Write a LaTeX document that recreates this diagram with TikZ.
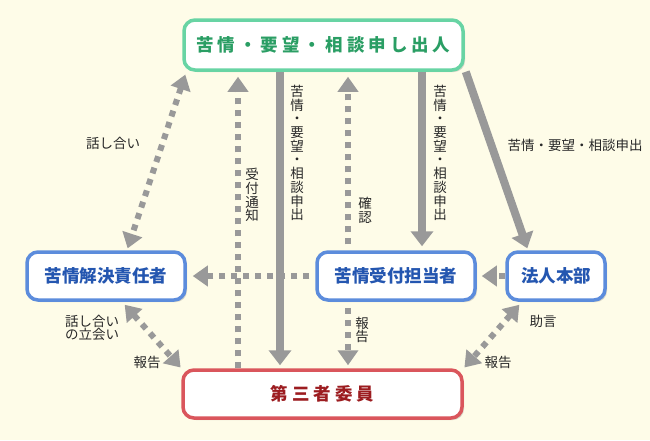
\documentclass[tikz,border=0pt]{standalone}
\usepackage{fontspec}
\setmainfont{Noto Sans CJK JP}
\usetikzlibrary{arrows.meta, shadows}

\definecolor{haikei}{RGB}{254,252,232}
\definecolor{mdborder}{RGB}{104,212,164}
\definecolor{mdtext}{RGB}{42,158,100}
\definecolor{aoborder}{RGB}{92,140,220}
\definecolor{aotext}{RGB}{36,86,176}
\definecolor{akaborder}{RGB}{218,86,92}
\definecolor{akatext}{RGB}{156,28,32}
\definecolor{yaji}{RGB}{153,153,153}
\definecolor{moji}{RGB}{40,40,40}
\newcommand\kan{\hspace{4pt}}

\begin{document}
\begin{tikzpicture}[x=1pt, y=-1pt,
    ya/.tip={Triangle[length=15pt, width=20pt]},
    box/.style={draw, line width=3.5pt, fill=white, rounded corners=11pt, inner sep=0pt,
        minimum height=48pt, font=\fontsize{17.5}{19}\selectfont\bfseries,
        drop shadow={shadow xshift=2pt, shadow yshift=-2pt, opacity=0.3}},
    midori/.style={box, draw=mdborder, text=mdtext},
    ao/.style={box, draw=aoborder, text=aotext},
    aka/.style={box, draw=akaborder, text=akatext},
    ten/.style={draw=yaji, line width=6pt, dash pattern=on 6pt off 6pt, -ya},
    ryou/.style={ten, ya-ya},
    futo/.style={draw=yaji, line width=8pt, -{Triangle[length=15pt, width=22pt]}},
    lab/.style={text=moji, font=\fontsize{13.5}{13.7}\selectfont, inner sep=0pt},
    tate/.style={lab, align=center}]

    \fill[haikei] (0,0) rectangle (650,440);

    \node[midori, minimum width=279pt, minimum height=50pt] (moushide) at (323.5,45)
        {苦\kan 情\kan ・\kan 要\kan 望\kan ・\kan 相\kan 談\kan 申\kan し\kan 出\kan 人};
    \node[ao, minimum width=158pt] (sekinin) at (106,276) {苦情解決責任者};
    \node[ao, minimum width=158pt] (tantou) at (396,276) {苦情受付担当者};
    \node[ao, minimum width=98pt] (honbu) at (556,276) {法人本部};
    \node[aka, minimum width=279pt] (daisan) at (322.5,394)
        {第\kan 三\kan 者\kan 委\kan 員};

    \coordinate (k1) at (238,0);
    \coordinate (k2) at (280,0);
    \coordinate (k3) at (348,0);
    \coordinate (k4) at (422,0);

    \draw[ryou, shorten <=3pt, shorten >=2pt] ([xshift=4pt]moushide.south west) -- ([xshift=21pt]sekinin.north);
    \draw[ten, shorten >=5pt] (daisan.north -| k1) -- (moushide.south -| k1);
    \draw[futo, shorten >=3pt] (moushide.south -| k2) -- (daisan.north -| k2);
    \draw[ten, shorten <=6pt, shorten >=5pt] (tantou.north -| k3) -- (moushide.south -| k3);
    \draw[futo, shorten >=4pt] (moushide.south -| k4) -- (tantou.north -| k4);
    \draw[futo, shorten >=2pt] ([xshift=1pt]moushide.south east) -- ([xshift=-28pt]honbu.north);
    \draw[ten, shorten <=6pt, shorten >=6pt] (tantou.west) -- (sekinin.east);
    \draw[ten, shorten >=5pt] (honbu.west) -- (tantou.east);
    \draw[ryou, shorten <=4pt, shorten >=1pt] ([xshift=16pt]sekinin.south) -- (daisan.north west);
    \draw[ten, shorten <=6pt, shorten >=3pt] (tantou.south -| k3) -- (daisan.north -| k3);
    \draw[ryou, shorten <=4pt, shorten >=1pt] ([xshift=-34pt]honbu.south) -- (daisan.north east);

    \node[lab] (l1) at (113,143) {話し合い};
    \node[tate] (l2) at (252,195) {受\\付\\通\\知};
    \node[tate] (l3) at (297,153) {苦\\情\\・\\要\\望\\・\\相\\談\\申\\出};
    \node[tate] (l4) at (365,210) {確\\認};
    \node[tate] (l5) at (440,153) {苦\\情\\・\\要\\望\\・\\相\\談\\申\\出};
    \node[lab] (l6) at (575,145) {苦情・要望・相談申出};
    \node[lab, align=left] (l7) at (92,328) {話し合い\\の立会い};
    \node[lab] (l8) at (147,362) {報告};
    \node[tate] (l9) at (362,330) {報\\告};
    \node[lab] (l10) at (543,321) {助言};
    \node[lab] (l11) at (498,362) {報告};
\end{tikzpicture}
\end{document}
